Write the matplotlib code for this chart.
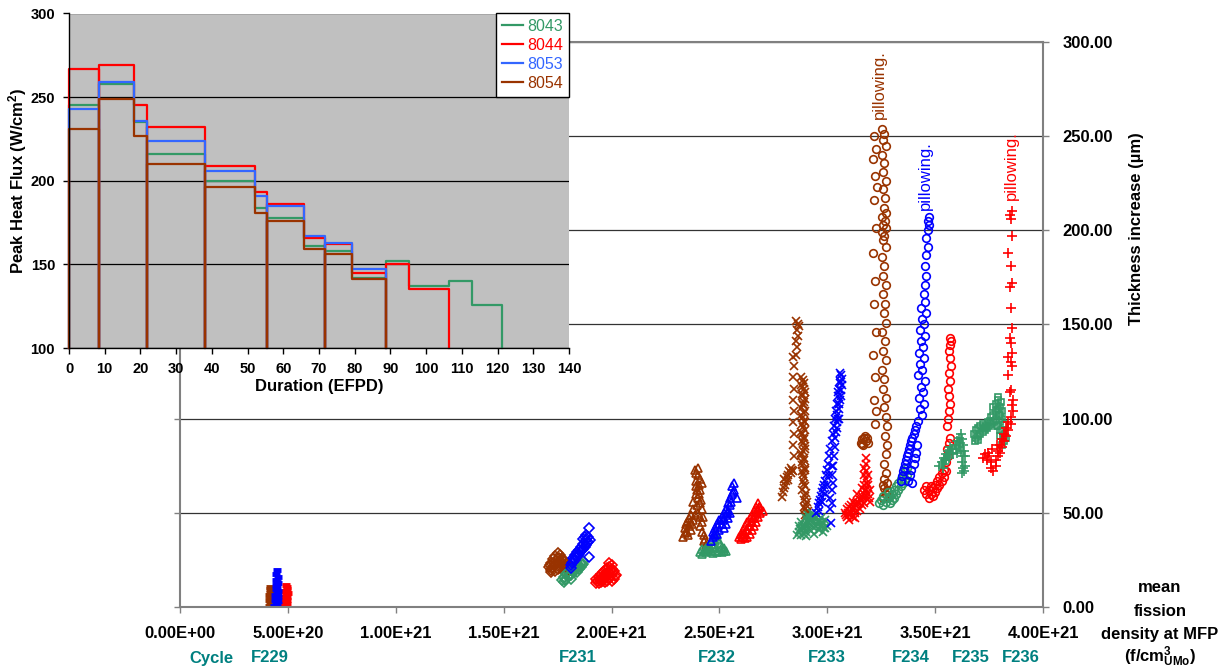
import matplotlib
matplotlib.use('Agg')
import matplotlib.pyplot as plt
from matplotlib import transforms
from matplotlib.ticker import FuncFormatter, MultipleLocator
from matplotlib.lines import Line2D

plt.rcParams['font.family'] = ['Liberation Sans', 'DejaVu Sans']
plt.rcParams['font.weight'] = 'bold'
plt.rcParams['mathtext.fontset'] = 'custom'
plt.rcParams['mathtext.rm'] = 'Liberation Sans:bold'
plt.rcParams['mathtext.it'] = 'Liberation Sans:bold'
plt.rcParams['mathtext.bf'] = 'Liberation Sans:bold'

# ---------------- colours ----------------
C_GREEN = '#339966'
C_RED = '#ff0000'
C_BLUE = '#0000ff'
C_BLUE_L = '#3366ff'
C_BROWN = '#993300'
C_TEAL = '#008080'

# ---------------- inset data (Peak heat flux vs EFPD) ----------------
efpd_edges = [0, 8.35, 18.2, 21.9, 38.0, 52.1, 55.3, 65.8, 71.7, 79.2, 88.8, 95.3, 106.5, 112.7, 121.3]
cycle_ends = [8.35, 21.9, 38.0, 55.3, 71.7, 88.8]
flux_8043 = [245, 258, 235, 216, 200, 184, 178, 161, 158, 142, 152, 137, 140, 126]
flux_8044 = [267, 269, 245, 232, 209, 193, 186, 166, 162, 145, 150, 135]
flux_8053 = [243, 259, 236, 224, 206, 191, 185, 167, 163, 147]
flux_8054 = [231, 249, 227, 210, 196, 181, 176, 159, 156, 141]
plate_labels = ['8043', '8044', '8053', '8054']

# ---------------- main data: x in 1E21 f/cm3, y in um ----------------
# F229 (dash markers)
b229_x = [0.412, 0.416, 0.420, 0.414, 0.418, 0.422, 0.413, 0.417, 0.421, 0.415, 0.419]
b229_y = [0.5, 1.5, 2.5, 3.5, 4.5, 5.5, 6.5, 7.5, 8.5, 9.5, 10.5]
u229_x = [0.438, 0.452, 0.444, 0.458, 0.440, 0.455, 0.447, 0.460, 0.442, 0.453, 0.449,
          0.457, 0.443, 0.451, 0.446, 0.456, 0.448, 0.445, 0.452, 0.447, 0.450]
u229_y = [0.5, 1.0, 2.0, 2.5, 3.5, 4.0, 5.0, 5.5, 6.5, 7.0, 8.0,
          8.5, 9.5, 10.5, 11.5, 12.5, 13.5, 14.5, 16.0, 17.5, 19.5]
r229_x = [0.488, 0.495, 0.491, 0.498, 0.489, 0.496, 0.492, 0.499, 0.490, 0.494, 0.497, 0.493]
r229_y = [0.5, 1.5, 2.5, 3.5, 4.5, 5.5, 6.5, 7.5, 8.5, 9.5, 10.5, 11.5]
g229_x = [0.440, 0.446, 0.452]
g229_y = [0.3, 0.8, 0.4]

# F231 (diamonds)
b231_x = [1.71, 1.72, 1.72, 1.73, 1.73, 1.74, 1.74, 1.75, 1.75, 1.76, 1.76, 1.77, 1.77,
          1.78, 1.78, 1.79, 1.79, 1.80, 1.80, 1.81, 1.74, 1.76, 1.72, 1.75, 1.78,
          1.715, 1.725, 1.735, 1.745, 1.755, 1.765, 1.775, 1.785, 1.795, 1.805]
b231_y = [21.0, 23.5, 19.5, 25.5, 21.0, 27.0, 22.5, 28.5, 24.0, 27.5, 20.5, 26.0, 22.0,
          24.5, 19.0, 23.0, 20.5, 22.0, 19.5, 21.0, 19.0, 24.5, 18.5, 20.0, 21.5,
          22.5, 20.5, 23.5, 25.0, 26.0, 24.0, 25.0, 22.0, 21.5, 20.0]
g231_x = [1.77, 1.78, 1.78, 1.79, 1.79, 1.80, 1.80, 1.81, 1.81, 1.82, 1.82, 1.83, 1.83,
          1.84, 1.84, 1.85, 1.85, 1.86, 1.86, 1.87, 1.87, 1.785, 1.805, 1.825, 1.845, 1.865]
g231_y = [14.5, 13.5, 16.0, 15.0, 17.5, 16.0, 18.5, 17.0, 15.0, 18.5, 20.5, 19.0, 21.5,
          20.5, 18.5, 22.0, 20.0, 21.5, 23.5, 23.0, 24.5, 14.5, 17.0, 19.5, 21.5, 22.5]
u231_x = [1.81, 1.81, 1.82, 1.82, 1.83, 1.83, 1.84, 1.84, 1.85, 1.85, 1.86, 1.86, 1.87,
          1.87, 1.87, 1.88, 1.88, 1.88, 1.89, 1.89, 1.90, 1.895, 1.895,
          1.815, 1.825, 1.835, 1.845, 1.855, 1.865, 1.875, 1.885, 1.875]
u231_y = [20.5, 22.5, 24.0, 26.0, 25.0, 27.5, 26.5, 29.0, 28.0, 30.5, 29.5, 32.0, 31.0,
          33.5, 36.0, 33.0, 35.5, 38.0, 34.5, 37.0, 35.5, 42.0, 26.5,
          23.5, 25.5, 26.5, 27.5, 29.0, 30.5, 32.0, 34.0, 37.0]
r231_x = [1.93, 1.93, 1.94, 1.94, 1.95, 1.95, 1.95, 1.96, 1.96, 1.96, 1.97, 1.97, 1.97, 1.98,
          1.98, 1.98, 1.99, 1.99, 1.99, 1.99, 2.00, 2.00, 2.00, 2.00, 2.01, 2.01, 2.02,
          1.935, 1.945, 1.955, 1.965, 1.975, 1.985, 1.995, 2.005, 2.015]
r231_y = [13.0, 15.0, 13.0, 16.0, 13.5, 15.5, 17.5, 14.0, 16.5, 18.5, 13.5, 16.0, 19.5, 14.0,
          17.0, 20.5, 15.0, 18.0, 21.0, 23.5, 14.0, 17.0, 20.0, 22.5, 15.0, 19.0, 17.0,
          14.0, 14.5, 14.5, 15.0, 17.5, 18.5, 19.5, 18.5, 16.5]

# F232 (triangles)
b232_x = [2.33, 2.34, 2.34, 2.35, 2.35, 2.36, 2.36, 2.37, 2.37, 2.38, 2.38, 2.38, 2.39, 2.39,
          2.39, 2.40, 2.40, 2.40, 2.41, 2.41, 2.40, 2.41, 2.42, 2.42, 2.41, 2.42, 2.43, 2.43,
          2.44, 2.44, 2.45, 2.42, 2.39, 2.41, 2.385,
          2.345, 2.355, 2.365, 2.375, 2.385, 2.395, 2.405, 2.415, 2.425, 2.435, 2.395, 2.405]
b232_y = [37, 39.5, 42, 45, 40, 47, 43, 49, 41, 46, 52, 56, 60, 64,
          67, 70, 74, 58, 62, 55, 50, 48, 52, 45, 43, 40, 38, 35,
          33, 31, 32, 66, 71, 68, 73,
          44, 38, 45, 44, 49, 54, 60, 57, 48, 36, 62, 65]
g232_x = [2.41, 2.42, 2.43, 2.44, 2.45, 2.46, 2.47, 2.48, 2.49, 2.50, 2.51, 2.52, 2.53,
          2.45, 2.47, 2.48, 2.49, 2.50, 2.51, 2.46, 2.44, 2.42, 2.52,
          2.435, 2.455, 2.475, 2.495, 2.515]
g232_y = [29, 28, 30, 29, 31, 30, 28.5, 30, 29, 30, 29, 30, 29.5,
          33, 32, 35, 38, 34, 32, 35, 31.5, 31, 31.5,
          30.5, 32, 33.5, 36, 31]
u232_x = [2.46, 2.47, 2.47, 2.48, 2.48, 2.49, 2.50, 2.50, 2.51, 2.51, 2.52, 2.52, 2.53, 2.53,
          2.54, 2.54, 2.55, 2.55, 2.56, 2.56, 2.57, 2.57, 2.58, 2.55, 2.53, 2.54, 2.49, 2.52,
          2.475, 2.495, 2.515, 2.535, 2.555, 2.565]
u232_y = [35, 37, 40, 38, 42, 44, 41, 46, 48, 44, 50, 47, 52, 49,
          55, 51, 58, 54, 60, 64, 66, 62, 58, 50, 44, 47, 39, 42,
          39, 43, 46, 50, 56, 61]
r232_x = [2.59, 2.60, 2.60, 2.61, 2.61, 2.62, 2.62, 2.62, 2.63, 2.63, 2.63, 2.64, 2.64, 2.64,
          2.65, 2.65, 2.65, 2.66, 2.66, 2.66, 2.67, 2.67, 2.67, 2.68, 2.68, 2.68, 2.69, 2.69, 2.70,
          2.605, 2.615, 2.625, 2.635, 2.645, 2.655, 2.665, 2.675, 2.685]
r232_y = [37, 36, 39, 37, 41, 36.5, 39, 43, 37, 41, 45, 39, 43, 47,
          41, 45, 49, 43, 47, 51, 45, 50, 53, 48, 52, 55, 50, 53, 51,
          38, 39, 41, 43, 45, 47, 49, 51, 53]

# F233 (crosses)
b233_x = [2.79, 2.795, 2.80, 2.805, 2.81, 2.80, 2.815, 2.82, 2.825, 2.83, 2.835, 2.83, 2.84, 2.82,
          2.845, 2.84, 2.845, 2.84, 2.845, 2.84, 2.845, 2.84, 2.845, 2.84,
          2.855, 2.86, 2.855, 2.865, 2.86, 2.865, 2.855, 2.87,
          2.880, 2.890, 2.884, 2.895, 2.882, 2.892, 2.886, 2.896, 2.880, 2.890, 2.884,
          2.895, 2.882, 2.892, 2.886, 2.896, 2.880, 2.890, 2.884, 2.895, 2.882, 2.892,
          2.886, 2.896, 2.885, 2.895, 2.890, 2.900, 2.895, 2.905, 2.900]
b233_y = [58.5, 61, 63, 65, 67, 68, 69, 70, 72, 71, 73, 74, 72, 67.5,
          80, 86, 92, 98, 104, 110, 116, 122, 128, 133,
          134, 138, 141, 144, 147, 150, 152, 149,
          122, 119, 117, 114, 112, 109, 107, 104, 102, 99, 97,
          94, 92, 89, 87, 84, 82, 79, 77, 74, 72, 69,
          67, 64, 62, 59, 57, 54, 52, 50, 48]
b233b_x = [2.888, 2.878, 2.893, 2.883, 2.898, 2.887, 2.879, 2.894, 2.884, 2.897, 2.888,
           2.879, 2.893, 2.883, 2.898, 2.887, 2.879, 2.894, 2.884, 2.897, 2.888, 2.893,
           2.900, 2.905, 2.910, 2.898, 2.890]
b233b_y = [120.5, 118, 115.5, 113, 110.5, 108, 105.5, 103, 100.5, 98, 95.5,
           93, 90.5, 88, 85.5, 83, 80.5, 78, 75.5, 73, 70.5, 65.5,
           60.5, 55.5, 51, 49, 53]
g233_x = [2.87, 2.87, 2.88, 2.88, 2.88, 2.89, 2.89, 2.90, 2.90, 2.90, 2.91, 2.91, 2.91, 2.92,
          2.92, 2.92, 2.93, 2.93, 2.93, 2.94, 2.94, 2.94, 2.95, 2.95, 2.96, 2.96, 2.97, 2.97,
          2.98, 2.98, 2.99, 2.99, 3.00, 2.86, 2.90, 2.94,
          2.875, 2.885, 2.895, 2.905, 2.915, 2.925, 2.935, 2.945, 2.955, 2.965, 2.975, 2.985]
g233_y = [40, 43, 38, 41, 45, 39, 42, 40, 44, 47, 42, 45, 49, 41,
          44, 48, 43, 46, 50, 42, 45, 49, 43, 47, 41, 45, 43, 47,
          40, 44, 42, 46, 43, 38, 37.5, 39,
          41.5, 43, 42, 45.5, 47, 46, 48, 47, 45, 43, 45, 42]
u233_x = [2.95, 2.955, 2.96, 2.965, 2.97, 2.975, 2.98, 2.985, 2.99, 2.995, 3.00, 3.005, 3.01,
          3.015, 3.02, 3.025, 3.03, 3.035, 3.04, 3.045, 3.05, 3.055, 3.06, 3.065, 3.06, 3.05,
          3.04, 3.055, 3.065, 3.045, 3.07, 3.06,
          3.015, 3.02, 3.015, 3.02, 3.025, 3.02, 3.025, 3.03, 3.035, 3.017, 2.96, 2.975, 2.99,
          3.045, 3.055, 3.065, 3.05, 3.06, 3.07, 3.035, 3.045, 3.055, 3.00, 3.01, 3.02]
u233_y = [50, 53, 55, 57, 59, 61, 63, 65, 67, 70, 73, 76, 80,
          84, 88, 92, 96, 100, 104, 108, 112, 116, 120, 123, 110, 100,
          93, 105, 115, 98, 118, 124,
          52, 55, 58, 62, 66, 70, 75, 80, 85, 44.7, 51, 56, 60,
          102, 108, 112, 114, 119, 121, 90, 95, 100, 65, 70, 75]
r233_x = [3.08, 3.09, 3.09, 3.10, 3.10, 3.11, 3.11, 3.12, 3.12, 3.12, 3.13, 3.13, 3.14, 3.14,
          3.14, 3.15, 3.15, 3.16, 3.16, 3.16, 3.17, 3.17, 3.17, 3.18, 3.18, 3.18, 3.18, 3.18,
          3.18, 3.19, 3.19, 3.19, 3.20, 3.20, 3.17, 3.17, 3.10, 3.13,
          3.085, 3.095, 3.105, 3.115, 3.125, 3.135, 3.145, 3.155, 3.165, 3.175, 3.185, 3.195]
r233_y = [50, 48, 52, 49, 53, 50, 54, 48, 52, 56, 50, 54, 51, 56,
          60, 52, 57, 54, 59, 63, 55, 60, 65, 58, 62, 68, 72, 76,
          79, 60, 65, 70, 62, 56, 70, 74, 46, 47,
          49, 50, 51, 52, 53, 55, 55, 57, 58, 62, 66, 58]

# F234 (open circles)
b234_x = [3.155, 3.16, 3.17, 3.18, 3.19, 3.165, 3.175, 3.185, 3.16,
          3.215, 3.225, 3.21, 3.22, 3.23, 3.215, 3.225, 3.21, 3.22, 3.215, 3.225, 3.21,
          3.22, 3.215, 3.225, 3.22,
          3.255, 3.265, 3.26, 3.27, 3.255, 3.265, 3.26, 3.27, 3.258, 3.268, 3.262, 3.272,
          3.256, 3.266, 3.26, 3.27, 3.255, 3.265, 3.26, 3.27, 3.255, 3.265, 3.26, 3.27,
          3.258, 3.268, 3.262, 3.272, 3.256, 3.266, 3.26, 3.27, 3.255, 3.265, 3.26, 3.27,
          3.265, 3.27, 3.275, 3.268, 3.275, 3.27, 3.265]
b234_y = [87, 89, 90, 88, 87, 86, 91, 90, 86.5,
          250, 243, 238, 229, 223, 216, 201, 188, 173, 161, 146, 134,
          122, 110, 104, 97,
          254, 251, 248, 245, 240, 236, 231, 226, 222, 217, 212, 209,
          207, 205, 203, 201, 199, 197, 195, 191, 186, 181, 176, 171,
          166, 161, 156, 151, 146, 141, 136, 131, 126, 121, 116, 111,
          106, 101, 96, 91, 86, 81, 76]
b234b_x = [3.27, 3.275, 3.265, 3.27, 3.26, 3.275, 3.26, 3.265]
b234b_y = [71, 66, 63, 60, 58, 62, 65, 68]
u234_x = [3.34, 3.345, 3.35, 3.355, 3.36, 3.365, 3.37, 3.375, 3.38, 3.385, 3.39, 3.395, 3.40,
          3.405, 3.41, 3.375, 3.385, 3.39, 3.40, 3.405, 3.41, 3.395, 3.415,
          3.42, 3.44, 3.43, 3.45, 3.425, 3.445, 3.435, 3.455, 3.42, 3.44, 3.43, 3.45,
          3.425, 3.445, 3.435, 3.455, 3.43, 3.45, 3.44, 3.46, 3.435, 3.455,
          3.45, 3.455, 3.46, 3.455, 3.46, 3.465, 3.46, 3.465, 3.47, 3.465, 3.47]
u234_y = [67, 69.5, 72, 74, 76, 78, 80, 82, 84, 86, 88, 90, 92,
          94, 96, 67, 70, 73, 76, 79, 82, 66, 86,
          99, 102, 105, 108, 111, 114, 117, 120, 123, 126, 129, 132,
          135, 138, 141, 144, 147, 150, 153, 156, 159, 162,
          166, 171, 176, 181, 187, 191, 196, 200, 203, 205, 207]
g234_x = [3.24, 3.25, 3.26, 3.27, 3.28, 3.29, 3.30, 3.26, 3.28, 3.30, 3.31, 3.32, 3.32,
          3.33, 3.33, 3.34, 3.34, 3.35, 3.35, 3.36, 3.36, 3.37, 3.37, 3.31, 3.29]
g234_y = [55, 57, 54, 56, 58, 55, 57, 59, 61, 60, 62, 60, 64,
          62, 66, 64, 68, 66, 70, 68, 72, 70, 74, 58, 59]
r234_x = [3.45, 3.46, 3.46, 3.47, 3.47, 3.48, 3.48, 3.49, 3.49, 3.50, 3.50, 3.51, 3.51,
          3.52, 3.52, 3.53, 3.53, 3.54, 3.54, 3.55, 3.55, 3.56, 3.555, 3.565, 3.57,
          3.555, 3.56, 3.565, 3.57, 3.565, 3.56, 3.57, 3.565, 3.575, 3.57, 3.565, 3.57,
          3.575, 3.57]
r234_y = [62, 60, 64, 58, 62, 60, 64, 59, 63, 61, 65, 63, 67,
          65, 69, 67, 71, 69, 73, 72, 77, 80, 84, 87, 90,
          96, 100, 104, 108, 112, 116, 120, 124, 128, 132, 136, 139,
          141, 143]

# F235 (plus)
g235_x = [3.52, 3.53, 3.54, 3.54, 3.55, 3.55, 3.56, 3.56, 3.57, 3.57, 3.58, 3.59, 3.60,
          3.61, 3.62, 3.625, 3.63, 3.62, 3.63, 3.625, 3.63, 3.635, 3.64, 3.61, 3.60, 3.64,
          3.535, 3.545, 3.565, 3.585, 3.595, 3.615, 3.635, 3.625]
g235_y = [75, 77, 76, 79, 78, 81, 80, 83, 82, 85, 84, 86, 88,
          90, 92, 89, 86, 83, 80, 77, 74, 72, 75, 85, 82, 80,
          74, 78, 79, 81, 84, 87, 83, 71]
r235_x = [3.72, 3.73, 3.74, 3.75, 3.76, 3.76, 3.77, 3.78, 3.78, 3.79, 3.79, 3.80, 3.80,
          3.81, 3.81, 3.82, 3.82, 3.83, 3.83, 3.84, 3.84, 3.85, 3.85, 3.86, 3.855, 3.86,
          3.745, 3.765, 3.785,
          3.845, 3.85, 3.84, 3.855, 3.85, 3.84, 3.855, 3.85, 3.845, 3.855, 3.85, 3.845,
          3.855, 3.85, 3.84, 3.855, 3.85, 3.845, 3.855]
r235_y = [79, 81, 78, 80, 77, 74, 72, 75, 78, 80, 83, 82, 86,
          85, 89, 88, 92, 91, 95, 94, 98, 97, 101, 104, 107, 110,
          82, 84, 86,
          114, 115, 123, 128, 130, 133, 135, 140, 143, 148, 159, 170,
          172, 181, 188, 197, 206, 208, 210]

# F236 (open squares)
g236_x = [3.68, 3.69, 3.69, 3.70, 3.70, 3.71, 3.71, 3.72, 3.72, 3.73, 3.74, 3.75, 3.76,
          3.77, 3.77, 3.78, 3.78, 3.78, 3.79, 3.80, 3.80, 3.80, 3.81, 3.81, 3.81, 3.82,
          3.82, 3.82, 3.81, 3.79, 3.80, 3.83, 3.76, 3.77, 3.79, 3.685, 3.70,
          3.725, 3.735, 3.745, 3.755, 3.785, 3.795, 3.805, 3.815, 3.79, 3.80]
g236_y = [92, 90, 94, 91, 95, 92, 96, 93, 97, 94, 95, 96, 97,
          98, 102, 100, 104, 108, 110, 106, 102, 98, 94, 100, 104, 97,
          92, 88, 86, 96, 91, 90, 101, 106, 111.5, 88, 88.5,
          95, 96, 98, 99, 96, 102, 109, 91, 105, 94]

# annotations
pillow_x = [3.24, 3.453, 3.852]
pillow_y = [277.6, 229.0, 234.6]
cycle_labels = ['Cycle', 'F229', 'F231', 'F232', 'F233', 'F234', 'F235', 'F236']
cycle_pos = [0.144, 0.417, 1.845, 2.489, 3.000, 3.389, 3.665, 3.898]

E21 = 1e21
W, H = 1227, 670

fig = plt.figure(figsize=(W / 100, H / 100), dpi=100)

# ---------------- main axes ----------------
ax = fig.add_axes([180 / W, 1 - 607 / H, (1043 - 180) / W, (607 - 42) / H])
ax.set_xlim(0, 4e21)
ax.set_ylim(0, 300)
ax.set_axisbelow(True)
ax.grid(axis='y', color='#333333', lw=0.9)
for s in ax.spines.values():
    s.set_color('#808080')
    s.set_linewidth(1.5)

clusters = [
    (b229_x, b229_y, C_BROWN, '_', 6), (g229_x, g229_y, C_GREEN, '_', 6),
    (u229_x, u229_y, C_BLUE, '_', 6), (r229_x, r229_y, C_RED, '_', 6),
    (b231_x, b231_y, C_BROWN, 'D', 5), (g231_x, g231_y, C_GREEN, 'D', 5),
    (u231_x, u231_y, C_BLUE, 'D', 5), (r231_x, r231_y, C_RED, 'D', 5),
    (b232_x, b232_y, C_BROWN, '^', 5.5), (g232_x, g232_y, C_GREEN, '^', 5.5),
    (u232_x, u232_y, C_BLUE, '^', 5.5), (r232_x, r232_y, C_RED, '^', 5.5),
    (b233_x, b233_y, C_BROWN, 'x', 5.5), (b233b_x, b233b_y, C_BROWN, 'x', 5.5),
    (g233_x, g233_y, C_GREEN, 'x', 5.5),
    (u233_x, u233_y, C_BLUE, 'x', 5.5), (r233_x, r233_y, C_RED, 'x', 5.5),
    (b234_x, b234_y, C_BROWN, 'o', 5.5), (b234b_x, b234b_y, C_BROWN, 'o', 5.5),
    (g234_x, g234_y, C_GREEN, 'o', 5.5),
    (u234_x, u234_y, C_BLUE, 'o', 5.5), (r234_x, r234_y, C_RED, 'o', 5.5),
    (g235_x, g235_y, C_GREEN, '+', 6.5), (g236_x, g236_y, C_GREEN, 's', 5),
    (r235_x, r235_y, C_RED, '+', 6.5),
]
for xs, ys, col, mk, ms in clusters:
    ax.plot([v * E21 for v in xs], ys, linestyle='none', marker=mk, ms=ms,
            mfc='none', mec=col, mew=3.5 if mk == '_' else 1.2, color=col)

pillow_cols = [C_BROWN, C_BLUE, C_RED]
for px, py, pc in zip(pillow_x, pillow_y, pillow_cols):
    ax.text(px * E21, py, 'pillowing.', rotation=90, color=pc, fontsize=12,
            fontweight='normal', ha='center', va='center')

ax.xaxis.set_major_locator(MultipleLocator(0.5e21))
ax.xaxis.set_major_formatter(FuncFormatter(lambda v, p: f'{v:.2E}'))
ax.yaxis.set_major_locator(MultipleLocator(50))
ax.yaxis.set_major_formatter(FuncFormatter(lambda v, p: f'{v:.2f}'))
ax.tick_params(axis='x', direction='out', length=4, width=1, color='#808080',
               pad=10, labelsize=12)
ax.tick_params(axis='y', left=True, right=True, labelleft=False, labelright=True,
               direction='out', length=4, width=1, color='#808080', pad=10, labelsize=12)

blend = transforms.blended_transform_factory(ax.transData, fig.transFigure)
for lab, pos in zip(cycle_labels, cycle_pos):
    ax.text(pos * E21, 1 - 658 / H, lab, transform=blend, ha='center', va='center',
            color=C_TEAL, fontsize=12, fontweight='bold')

fig.text(1137 / W, 1 - 229 / H, 'Thickness increase (µm)', rotation=90,
         ha='center', va='center', fontsize=12, fontweight='bold')
xt_lines = ['mean', 'fission', 'density at MFP', r'(f/cm$^{\mathbf{3}}_{\mathbf{UMo}}$)']
xt_ys = [588, 611, 634, 657]
for t, yy in zip(xt_lines, xt_ys):
    fig.text(1160 / W, 1 - yy / H, t, ha='center', va='center', fontsize=12,
             fontweight='bold')

# ---------------- inset ----------------
axi = fig.add_axes([69 / W, 1 - 348 / H, 500 / W, (348 - 13.5) / H])
axi.set_facecolor('#c0c0c0')
axi.set_xlim(0, 140)
axi.set_ylim(100, 300)
axi.set_axisbelow(True)
axi.grid(axis='y', color='black', lw=0.9)
axi.spines['top'].set_visible(False)
axi.spines['right'].set_visible(False)
for s in ['left', 'bottom']:
    axi.spines[s].set_color('black')
    axi.spines[s].set_linewidth(1.0)


def step_path(edges, vals, base, drops):
    xs = [edges[0]]
    ys = [base]
    for i, v in enumerate(vals):
        xs += [edges[i], edges[i + 1]]
        ys += [v, v]
        if edges[i + 1] in drops or i == len(vals) - 1:
            xs.append(edges[i + 1])
            ys.append(base)
    return xs, ys


inset_series = [(flux_8043, C_GREEN), (flux_8044, C_RED), (flux_8053, C_BLUE_L), (flux_8054, C_BROWN)]
handles = []
for (vals, col), lab in zip(inset_series, plate_labels):
    xs, ys = step_path(efpd_edges, vals, 100, cycle_ends)
    axi.plot(xs, ys, color=col, lw=1.6, clip_on=False)
    handles.append(Line2D([0], [0], color=col, lw=1.6))

axi.xaxis.set_major_locator(MultipleLocator(10))
axi.yaxis.set_major_locator(MultipleLocator(50))
axi.tick_params(direction='out', length=4, width=1, labelsize=10.5, pad=6)
axi.set_xlabel('Duration (EFPD)', fontsize=12, fontweight='bold', labelpad=2)
axi.set_ylabel(r'Peak Heat Flux (W/cm$^{\mathbf{2}}$)', fontsize=12, fontweight='bold',
               labelpad=1)

leg = axi.legend(handles, plate_labels, loc='upper right', borderaxespad=0,
                 handlelength=1.3, handletextpad=0.3, labelspacing=0.25,
                 borderpad=0.35, fancybox=False, framealpha=1, labelcolor='linecolor',
                 prop={'weight': 'normal', 'size': 11.5})
leg.get_frame().set_edgecolor('black')
leg.get_frame().set_linewidth(1.0)

fig.savefig('out.png', dpi=100)
